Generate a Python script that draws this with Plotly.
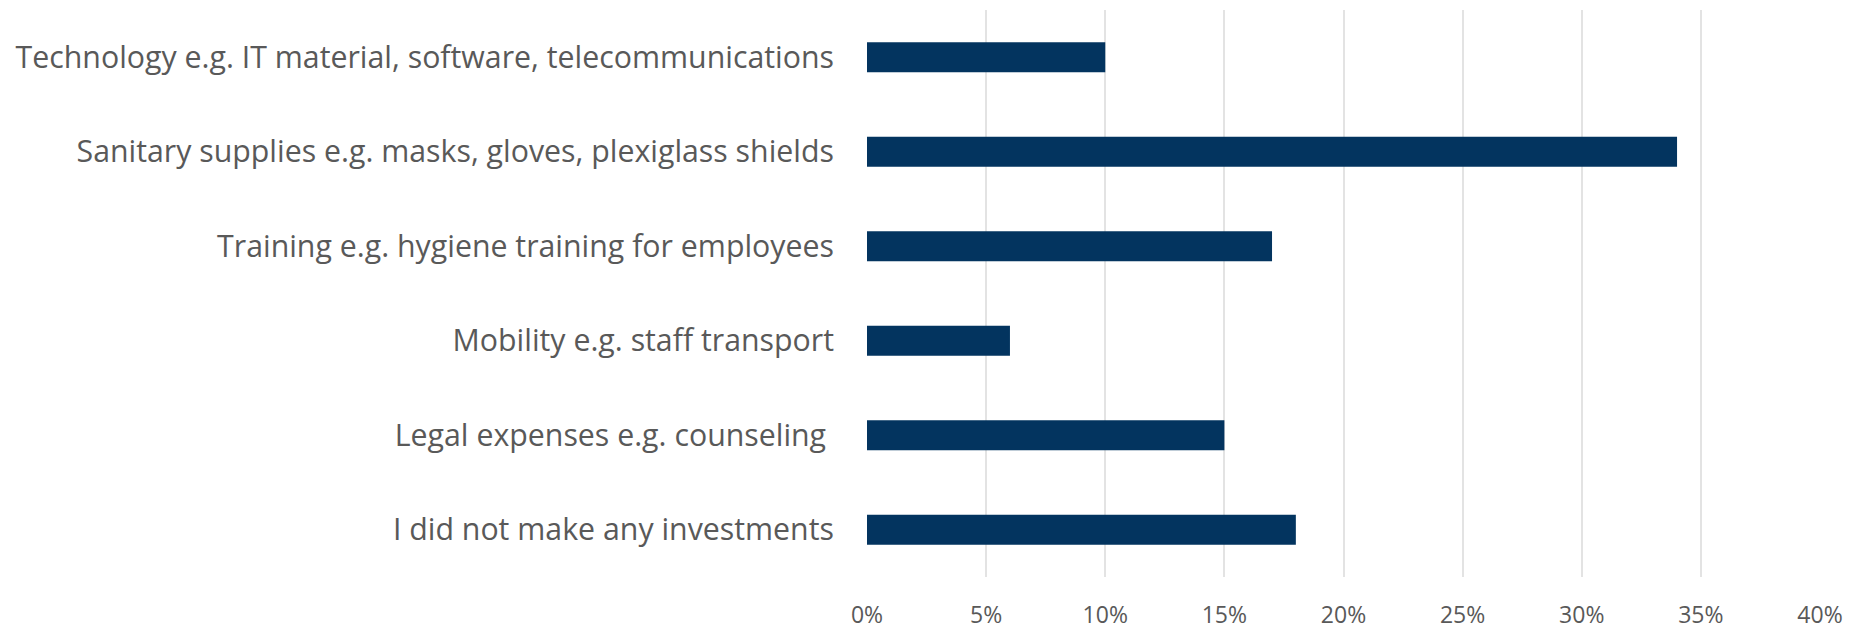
import plotly.graph_objects as go

categories = [
    "Technology e.g. IT material, software, telecommunications",
    "Sanitary supplies e.g. masks, gloves, plexiglass shields",
    "Training e.g. hygiene training for employees",
    "Mobility e.g. staff transport",
    "Legal expenses e.g. counseling\u00a0",
    "I did not make any investments",
]
values = [0.10, 0.34, 0.17, 0.06, 0.15, 0.18]
x_ticks = [0, 0.05, 0.10, 0.15, 0.20, 0.25, 0.30, 0.35, 0.40]
x_tick_labels = ["0%", "5%", "10%", "15%", "20%", "25%", "30%", "35%", "40%"]

fig = go.Figure(go.Bar(
    x=values, y=categories, orientation="h",
    marker=dict(color="#03345f", line=dict(width=0)),
    width=0.32,
))

font = "Open Sans"
# page body has an 8px default margin; size the figure to fit the 1858x629 window
fig.update_layout(
    width=1850, height=621,
    margin=dict(l=859, r=38, t=2, b=52),
    paper_bgcolor="white", plot_bgcolor="white",
    showlegend=False,
    font=dict(family=font, color="#595959"),
)
fig.update_xaxes(
    range=[0, 0.40], tickvals=x_ticks, ticktext=x_tick_labels,
    showgrid=True, gridcolor="#e3e3e3", gridwidth=1.5,
    zeroline=False, showline=False, automargin=False,
    ticks="outside", ticklen=17, tickcolor="rgba(0,0,0,0)",
    tickfont=dict(size=23, family=font, color="#595959"),
)
fig.update_yaxes(
    autorange="reversed", showgrid=False, zeroline=False, showline=False,
    automargin=False,
    ticks="outside", ticklen=26, tickcolor="rgba(0,0,0,0)",
    tickfont=dict(size=30.3, family=font, color="#595959"),
)
fig.write_html("out.html")
